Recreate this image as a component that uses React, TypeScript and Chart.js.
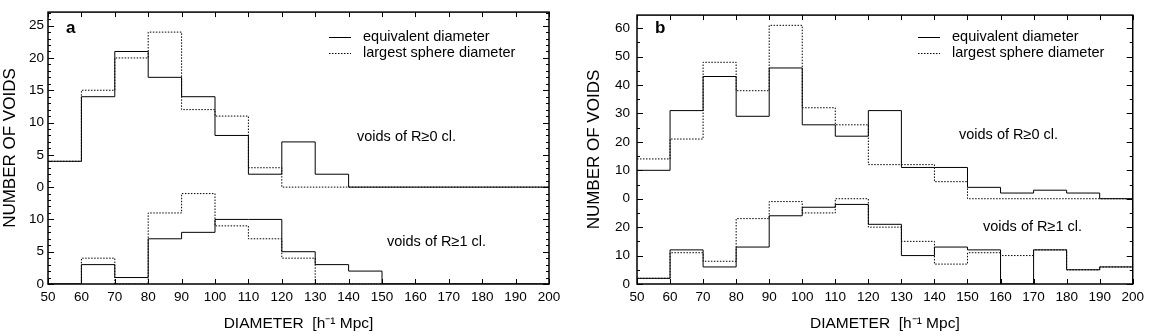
import React, { useEffect, useRef } from 'react';
import { Chart, registerables } from 'chart.js';

Chart.register(...registerables);

// ---------- DATA ----------
const BIN_EDGES = [50, 60, 70, 80, 90, 100, 110, 120, 130, 140, 150, 160, 170, 180, 190, 200];
const X_TICKS = [50, 60, 70, 80, 90, 100, 110, 120, 130, 140, 150, 160, 170, 180, 190, 200];

// panel a
const A_UPPER_EQUIV = [4, 14, 21, 17, 14, 8, 2, 7, 2, 0, 0, 0, 0, 0, 0];
const A_UPPER_SPHERE = [4, 15, 20, 24, 12, 11, 3, 0, 0, 0, 0, 0, 0, 0, 0];
const A_LOWER_EQUIV = [0, 3, 1, 7, 8, 10, 10, 5, 3, 2, 0, 0, 0, 0, 0];
const A_LOWER_SPHERE = [0, 4, 0, 11, 14, 9, 7, 4, 0, 0, 0, 0, 0, 0, 0];
const A_OFFSET = 15;
const A_LOWER_TICKS = [0, 5, 10];
const A_UPPER_TICKS = [0, 5, 10, 15, 20, 25];

// panel b
const B_UPPER_EQUIV = [10, 31, 43, 29, 46, 26, 22, 31, 11, 11, 4, 2, 3, 2, 0];
const B_UPPER_SPHERE = [14, 21, 48, 38, 61, 32, 26, 12, 12, 6, 0, 0, 0, 0, 0];
const B_LOWER_EQUIV = [2, 12, 6, 13, 24, 27, 28, 21, 10, 13, 12, 0, 12, 5, 6];
const B_LOWER_SPHERE = [2, 11, 8, 23, 29, 25, 30, 20, 15, 7, 11, 10, 12, 5, 6];
const B_OFFSET = 30;
const B_LOWER_TICKS = [0, 10, 20];
const B_UPPER_TICKS = [0, 10, 20, 30, 40, 50, 60];

const LEGEND_LABELS = ['equivalent diameter', 'largest sphere diameter'];
const UPPER_NOTE = 'voids of R\u22650 cl.';
const LOWER_NOTE = 'voids of R\u22651 cl.';
const X_TITLE = 'DIAMETER  [h\u207B\u00B9 Mpc]';
const Y_TITLE = 'NUMBER OF VOIDS';

const FONT = "'Liberation Sans', Arial, Helvetica, sans-serif";

function stepPoints(vals: number[], offset: number) {
  return BIN_EDGES.map((x, i) => ({ x, y: vals[Math.min(i, vals.length - 1)] + offset }));
}

interface PanelCfg {
  letter: string;
  canvasW: number;
  areaLeft: number;
  areaRight: number;
  yMax: number;
  offset: number;
  lowerTicks: number[];
  upperTicks: number[];
  minorStep: number;
  upperEquiv: number[];
  upperSphere: number[];
  lowerEquiv: number[];
  lowerSphere: number[];
  tickPad: number;
  yTitlePad: number;
  upperNote: [number, number];
  lowerNote: [number, number];
}

const H = 335;
const TOP = 1;
const BOTTOM = 284;

const framePlugin = {
  id: 'frame',
  afterDatasetsDraw(chart: any, _args: any, opts: any) {
    const { ctx, chartArea, scales } = chart;
    const { left, right, top, bottom } = chartArea;
    const x = scales.x;
    const y = scales.y;
    ctx.save();
    ctx.strokeStyle = '#000';
    ctx.lineWidth = 1;
    // x ticks (bottom and top)
    X_TICKS.forEach((v) => {
      const px = Math.round(x.getPixelForValue(v)) + 0.5;
      ctx.beginPath();
      ctx.moveTo(px, bottom);
      ctx.lineTo(px, bottom - 5);
      ctx.moveTo(px, top);
      ctx.lineTo(px, top + 5);
      ctx.stroke();
    });
    // y ticks (major + minor, left and right)
    const majors: number[] = opts.majors;
    for (let v = 0; v <= y.max + 1e-6; v += opts.minorStep) {
      const isMajor = majors.some((m: number) => Math.abs(m - v) < 1e-6);
      const len = isMajor ? 6 : 3;
      const py = Math.round(y.getPixelForValue(v)) + 0.5;
      ctx.beginPath();
      ctx.moveTo(left, py);
      ctx.lineTo(left + len, py);
      ctx.moveTo(right, py);
      ctx.lineTo(right - len, py);
      ctx.stroke();
    }
    // frame
    ctx.lineWidth = 1.5;
    ctx.strokeRect(left, top, right - left, bottom - top);

    // panel letter
    ctx.fillStyle = '#000';
    ctx.font = `bold 17px ${FONT}`;
    ctx.textAlign = 'left';
    ctx.textBaseline = 'middle';
    ctx.fillText(opts.letter, left + 18, 28);

    // legend
    ctx.font = `14.5px ${FONT}`;
    const lx0 = left + 281;
    const lx1 = left + 303;
    const tx = left + 315;
    const ly = [37, 53];
    ctx.lineWidth = 1;
    ctx.beginPath();
    ctx.moveTo(lx0, ly[0] + 0.5);
    ctx.lineTo(lx1, ly[0] + 0.5);
    ctx.stroke();
    ctx.setLineDash([1.5, 1.5]);
    ctx.beginPath();
    ctx.moveTo(lx0, ly[1] + 0.5);
    ctx.lineTo(lx1, ly[1] + 0.5);
    ctx.stroke();
    ctx.setLineDash([]);
    ctx.fillText(LEGEND_LABELS[0], tx, ly[0]);
    ctx.fillText(LEGEND_LABELS[1], tx, ly[1]);

    // notes
    ctx.fillText(UPPER_NOTE, left + opts.upperNote[0], opts.upperNote[1]);
    ctx.fillText(LOWER_NOTE, left + opts.lowerNote[0], opts.lowerNote[1]);
    ctx.restore();
  },
};

function Panel({ cfg }: { cfg: PanelCfg }) {
  const ref = useRef<HTMLCanvasElement>(null);
  useEffect(() => {
    if (!ref.current) return;
    const tickValues = [...cfg.lowerTicks, ...cfg.upperTicks.map((t) => t + cfg.offset)];
    const solid = { borderColor: '#000', borderWidth: 1, pointRadius: 0, stepped: 'before' as const, fill: false };
    const dotted = { ...solid, borderDash: [1.5, 1.5] };
    const chart = new Chart(ref.current, {
      type: 'line',
      data: {
        datasets: [
          { ...solid, label: 'upper equivalent', data: stepPoints(cfg.upperEquiv, cfg.offset) },
          { ...dotted, label: 'upper sphere', data: stepPoints(cfg.upperSphere, cfg.offset) },
          { ...solid, label: 'lower equivalent', data: stepPoints(cfg.lowerEquiv, 0) },
          { ...dotted, label: 'lower sphere', data: stepPoints(cfg.lowerSphere, 0) },
        ],
      },
      options: {
        responsive: false,
        animation: false,
        maintainAspectRatio: false,
        layout: { padding: { top: TOP, right: cfg.canvasW - cfg.areaRight, left: 0, bottom: 0 } },
        plugins: {
          legend: { display: false },
          tooltip: { enabled: false },
          frame: {
            letter: cfg.letter,
            majors: tickValues,
            minorStep: cfg.minorStep,
            upperNote: cfg.upperNote,
            lowerNote: cfg.lowerNote,
          },
        } as any,
        scales: {
          x: {
            type: 'linear',
            min: 50,
            max: 200,
            grid: { display: false, drawTicks: false },
            border: { display: false },
            afterBuildTicks: (s: any) => {
              s.ticks = X_TICKS.map((v) => ({ value: v }));
            },
            afterFit: (s: any) => {
              s.height = H - BOTTOM;
            },
            ticks: {
              autoSkip: false,
              maxRotation: 0,
              padding: 5,
              color: '#000',
              font: { family: FONT, size: 13.5 },
            },
            title: {
              display: true,
              text: X_TITLE,
              color: '#000',
              font: { family: FONT, size: 15.5 },
              padding: { top: 0, bottom: 2 },
            },
          },
          y: {
            type: 'linear',
            min: 0,
            max: cfg.yMax,
            grid: { display: false, drawTicks: false },
            border: { display: false },
            afterBuildTicks: (s: any) => {
              s.ticks = tickValues.map((v) => ({ value: v }));
            },
            afterFit: (s: any) => {
              s.width = cfg.areaLeft;
            },
            ticks: {
              padding: cfg.tickPad,
              color: '#000',
              font: { family: FONT, size: 13.5 },
              callback: (v: any) => {
                const n = Number(v);
                return String(Math.round(n >= cfg.offset ? n - cfg.offset : n));
              },
            },
            title: {
              display: true,
              text: Y_TITLE,
              color: '#000',
              font: { family: FONT, size: 17 },
              padding: { top: cfg.yTitlePad, bottom: 0 },
            },
          },
        },
      },
      plugins: [framePlugin],
    });
    return () => chart.destroy();
  }, [cfg]);
  return <canvas ref={ref} width={cfg.canvasW} height={H} style={{ width: cfg.canvasW, height: H, display: 'block' }} />;
}

const PANEL_A: PanelCfg = {
  letter: 'a',
  canvasW: 575,
  areaLeft: 48,
  areaRight: 549,
  yMax: 42.1,
  offset: A_OFFSET,
  lowerTicks: A_LOWER_TICKS,
  upperTicks: A_UPPER_TICKS,
  minorStep: 1,
  upperEquiv: A_UPPER_EQUIV,
  upperSphere: A_UPPER_SPHERE,
  lowerEquiv: A_LOWER_EQUIV,
  lowerSphere: A_LOWER_SPHERE,
  tickPad: 4,
  yTitlePad: 0,
  upperNote: [309, 137],
  lowerNote: [339, 242],
};

const PANEL_B: PanelCfg = {
  letter: 'b',
  canvasW: 574,
  areaLeft: 62,
  areaRight: 563,
  yMax: 94.6,
  offset: B_OFFSET,
  lowerTicks: B_LOWER_TICKS,
  upperTicks: B_UPPER_TICKS,
  minorStep: 5,
  upperEquiv: B_UPPER_EQUIV,
  upperSphere: B_UPPER_SPHERE,
  lowerEquiv: B_LOWER_EQUIV,
  lowerSphere: B_LOWER_SPHERE,
  tickPad: 7,
  yTitlePad: 9,
  upperNote: [322, 135],
  lowerNote: [346, 227],
};

export default function App() {
  return (
    <div style={{ position: 'absolute', left: 0, top: 0, width: 1149, height: H, background: '#fff', overflow: 'hidden' }}>
      <div style={{ position: 'absolute', left: 0, top: 0 }}>
        <Panel cfg={PANEL_A} />
      </div>
      <div style={{ position: 'absolute', left: 575, top: 0 }}>
        <Panel cfg={PANEL_B} />
      </div>
    </div>
  );
}
